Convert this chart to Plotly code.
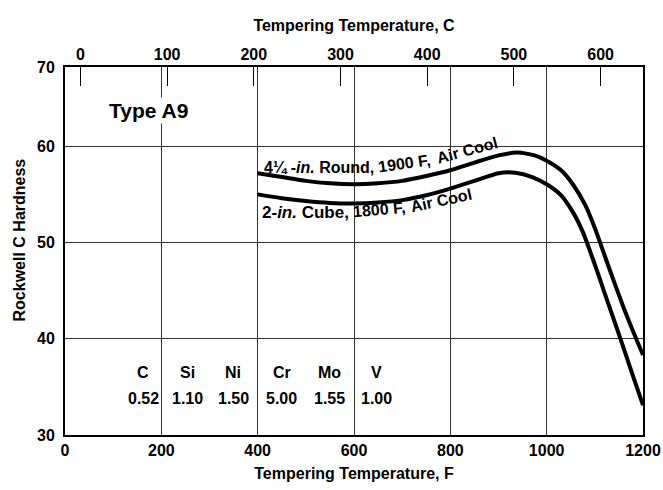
import plotly.graph_objects as go

# ---- data ----
round_f = [400, 450, 500, 550, 600, 650, 700, 750, 800, 850, 900, 940, 975,
           1000, 1030, 1055, 1080, 1100, 1120, 1140, 1160, 1180, 1200]
round_4q = [57.2, 56.8, 56.4, 56.15, 56.05, 56.15, 56.4, 56.9, 57.5, 58.3, 59.05,
            59.35, 59.05, 58.5, 57.5, 56.0, 53.9, 51.5, 48.7, 45.9, 43.2, 40.7, 38.3]
cube_f = [400, 450, 500, 550, 600, 650, 700, 750, 800, 850, 900, 935, 970,
          1000, 1030, 1055, 1075, 1090, 1105, 1120, 1140, 1160, 1180, 1200]
cube_2 = [55.0, 54.6, 54.3, 54.1, 54.05, 54.15, 54.4, 54.9, 55.6, 56.4, 57.2,
          57.25, 56.8, 56.05, 54.9, 53.1, 51.1, 49.1, 47.0, 44.8, 41.9, 39.0, 36.0, 33.1]

f_ticks = [0, 200, 400, 600, 800, 1000, 1200]
c_ticks = [0, 100, 200, 300, 400, 500, 600]
hrc_ticks = [30, 40, 50, 60, 68.23]
hrc_labels = ["30", "40", "50", "60", "70"]

elements = ["C", "Si", "Ni", "Cr", "Mo", "V"]
percents = ["0.52", "1.10", "1.50", "5.00", "1.55", "1.00"]
elem_x = [162, 255, 349, 450, 550, 647]   # F position of table columns

FONT = "Liberation Sans"

fig = go.Figure()
for xs, ys in ((round_f, round_4q), (cube_f, cube_2)):
    fig.add_trace(go.Scatter(x=xs, y=ys, mode="lines",
                             line=dict(color="black", width=4, shape="spline", smoothing=0.6),
                             hoverinfo="skip", showlegend=False))
# Celsius axis carrier
fig.add_trace(go.Scatter(x=c_ticks, y=[None] * len(c_ticks), xaxis="x2",
                         mode="lines", showlegend=False, hoverinfo="skip"))

def f_to_c(f):
    return (f - 32) / 1.8

TF = dict(size=16, family=FONT, weight="bold", color="black")

fig.update_layout(
    width=663, height=490,
    margin=dict(l=65, r=20, t=67, b=55),
    plot_bgcolor="white", paper_bgcolor="white",
    font=dict(family=FONT, size=16, color="black", weight="bold"),
    xaxis=dict(range=[0, 1200], tickvals=f_ticks, showgrid=True, gridcolor="#333",
               gridwidth=1, showline=True, linecolor="black", linewidth=2, mirror=True,
               ticks="", zeroline=False, tickfont=TF, automargin=False,
               ticklabeloverflow="allow",
               title=dict(text="Tempering Temperature, F", standoff=10,
                          font=dict(size=16, family=FONT, weight="bold"))),
    yaxis=dict(range=[30, 68.23], tickvals=hrc_ticks, ticktext=hrc_labels,
               showgrid=True, gridcolor="#333", gridwidth=1, showline=True,
               linecolor="black", linewidth=2, mirror=True, ticks="", zeroline=False,
               tickfont=TF, ticklabelstandoff=5, automargin=False),
    xaxis2=dict(overlaying="x", side="top", anchor="y",
                range=[f_to_c(0), f_to_c(1200)], tickvals=c_ticks,
                ticks="inside", ticklen=19, tickwidth=1, tickcolor="black",
                showgrid=False, zeroline=False, showline=False, tickfont=TF,
                ticklabelstandoff=3, automargin=False, ticklabeloverflow="allow",
                title=dict(text="Tempering Temperature, C", standoff=10,
                           font=dict(size=16, family=FONT, weight="bold"))),
)

LF = dict(size=16, family=FONT, weight="bold", color="black")
ann = []
ann.append(dict(xref="paper", yref="paper", x=-0.0787, y=0.53, xanchor="center",
                yanchor="middle", text="Rockwell C Hardness",
                textangle=-90, showarrow=False, font=LF))
ann.append(dict(x=173, y=63.75, text="Type A9", showarrow=False, bgcolor="white",
                font=dict(size=21, family=FONT, weight="bold")))
# curve labels, pieces following the curves
ann.append(dict(x=527, y=57.8, text="4¼ -<i>in.</i> Round,", textangle=0,
                showarrow=False, font=LF))
ann.append(dict(x=704, y=58.25, text="1900 F,", textangle=-8, showarrow=False, font=LF))
ann.append(dict(x=834, y=59.6, text="Air Cool", textangle=-15, showarrow=False, font=LF))
ann.append(dict(x=499, y=53.15, text="2-<i>in.</i> Cube,", textangle=0,
                showarrow=False, font=dict(size=17, family=FONT, weight="bold")))
ann.append(dict(x=651, y=53.4, text="1800 F,", textangle=-5, showarrow=False, font=LF))
ann.append(dict(x=781, y=54.4, text="Air Cool", textangle=-12, showarrow=False, font=LF))
for ex, el, pc in zip(elem_x, elements, percents):
    ann.append(dict(x=ex, y=36.5, text=el, showarrow=False, font=LF))
    ann.append(dict(x=ex, y=33.8, text=pc, showarrow=False, font=LF))
fig.update_layout(annotations=ann)

fig.write_html("out.html")
